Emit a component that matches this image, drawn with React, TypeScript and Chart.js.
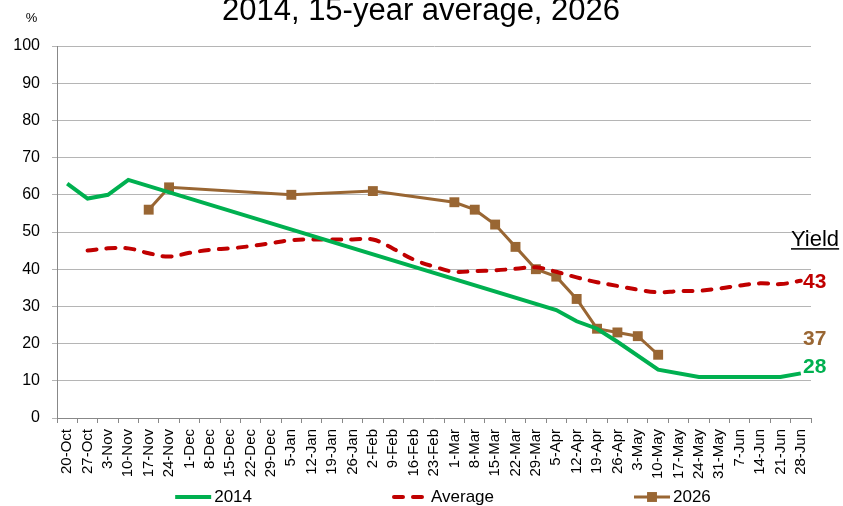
import React, { useEffect, useRef } from 'react';
import { Chart, registerables } from 'chart.js';

Chart.register(...registerables);

const categories = [
  '20-Oct', '27-Oct', '3-Nov', '10-Nov', '17-Nov', '24-Nov', '1-Dec', '8-Dec', '15-Dec', '22-Dec',
  '29-Dec', '5-Jan', '12-Jan', '19-Jan', '26-Jan', '2-Feb', '9-Feb', '16-Feb', '23-Feb', '1-Mar',
  '8-Mar', '15-Mar', '22-Mar', '29-Mar', '5-Apr', '12-Apr', '19-Apr', '26-Apr', '3-May', '10-May',
  '17-May', '24-May', '31-May', '7-Jun', '14-Jun', '21-Jun', '28-Jun',
];

const series2014: (number | null)[] = [
  63, 59, 60, 64, null, null, null, null, null, null,
  null, null, null, null, null, null, null, null, null, null,
  null, null, null, null, 29, 26, 24, 20.5, null, 13,
  null, 11, null, null, null, 11, 12,
];

const seriesAverage: (number | null)[] = [
  null, 45, 45.6, 45.6, 44.3, 43.4, 44.4, 45.2, 45.6, 46.2,
  47, 47.8, 48, 48, 48, 48, 45.5, 42.6, 40.7, 39.3,
  39.5, 39.7, 40.1, 40.5, 39.3, 37.8, 36.5, 35.5, 34.5, 33.8,
  34.1, 34.2, 34.8, 35.6, 36.2, 36, 36.9,
];

const series2026: (number | null)[] = [
  null, null, null, null, 56, 62, null, null, null, null,
  null, 60, null, null, null, 61, null, null, null, 58,
  56, 52, 46, 40, 38, 32, 24, 23, 22, 17,
  null, null, null, null, null, null, null,
];

const yTicks = [0, 10, 20, 30, 40, 50, 60, 70, 80, 90, 100];

const yieldLabels = ['43', '37', '28'];
const yieldLabelLevels = [36.4, 21.2, 13.7];
const yieldLabelColors = ['#C00000', '#996633', '#00B050'];

const titleText = '2014, 15-year average, 2026';
const FONT = '"Liberation Sans", Arial, sans-serif';

const overlayPlugin = {
  id: 'overlay',
  afterDraw(chart: any) {
    const ctx = chart.ctx as CanvasRenderingContext2D;
    const area = chart.chartArea;
    const y = chart.scales.y;
    ctx.save();
    // title
    ctx.fillStyle = '#000';
    ctx.font = `31px ${FONT}`;
    ctx.textAlign = 'center';
    ctx.textBaseline = 'alphabetic';
    ctx.fillText(titleText, 421, 20);
    // % unit
    ctx.font = `13px ${FONT}`;
    ctx.textBaseline = 'middle';
    ctx.fillText('%', 31.5, 18);
    // Yield heading
    ctx.font = `22px ${FONT}`;
    ctx.textAlign = 'left';
    ctx.textBaseline = 'alphabetic';
    const yx = area.right - 20;
    const yy = y.getPixelForValue(46.2);
    ctx.fillText('Yield', yx, yy);
    const w = ctx.measureText('Yield').width;
    ctx.fillRect(yx, yy + 2, w, 1.5);
    // yield values
    ctx.font = `bold 21px ${FONT}`;
    ctx.textBaseline = 'middle';
    yieldLabels.forEach((t, i) => {
      ctx.fillStyle = yieldLabelColors[i];
      ctx.fillText(t, area.right - 8, y.getPixelForValue(yieldLabelLevels[i]));
    });
    // legend
    const ly = 497;
    ctx.font = `17px ${FONT}`;
    ctx.textAlign = 'left';
    ctx.textBaseline = 'middle';
    const lineLen = 36;
    const gapText = 3;
    const gapItems = 140;
    const items = chart.data.datasets.map((ds: any) => ({
      ds,
      width: lineLen + gapText + ctx.measureText(ds.label).width,
    }));
    const total = items.reduce((s: number, it: any) => s + it.width, 0) + gapItems * (items.length - 1);
    let lx = 443 - total / 2;
    items.forEach((it: any) => {
      const ds = it.ds;
      ctx.save();
      ctx.strokeStyle = ds.borderColor;
      ctx.lineWidth = ds.borderWidth;
      ctx.lineCap = ds.borderCapStyle || 'butt';
      ctx.setLineDash(ds.borderDash || []);
      ctx.beginPath();
      ctx.moveTo(lx + (ds.borderCapStyle === 'round' ? 2 : 0), ly);
      ctx.lineTo(lx + lineLen, ly);
      ctx.stroke();
      ctx.setLineDash([]);
      if (ds.pointStyle === 'rect' && ds.pointRadius > 0) {
        const s = ds.pointRadius * Math.SQRT1_2;
        ctx.fillStyle = ds.pointBackgroundColor;
        ctx.fillRect(lx + lineLen / 2 - s, ly - s, 2 * s, 2 * s);
      }
      ctx.restore();
      ctx.fillStyle = '#000';
      ctx.fillText(ds.label, lx + lineLen + gapText, ly);
      lx += it.width + gapItems;
    });
    ctx.restore();
  },
};

export default function App() {
  const ref = useRef<HTMLCanvasElement | null>(null);
  useEffect(() => {
    if (!ref.current) return;
    const chart = new Chart(ref.current, {
      type: 'line',
      data: {
        labels: categories,
        datasets: [
          {
            label: '2014',
            data: series2014,
            borderColor: '#00B050',
            backgroundColor: '#00B050',
            borderWidth: 4,
            pointRadius: 0,
            spanGaps: true,
            tension: 0,
          },
          {
            label: 'Average',
            data: seriesAverage,
            borderColor: '#C00000',
            backgroundColor: '#C00000',
            borderWidth: 4,
            borderDash: [9, 10],
            borderCapStyle: 'round',
            pointRadius: 0,
            spanGaps: true,
            tension: 0.4,
          },
          {
            label: '2026',
            data: series2026,
            borderColor: '#996633',
            backgroundColor: '#996633',
            pointBackgroundColor: '#996633',
            pointBorderColor: '#996633',
            borderWidth: 3,
            pointStyle: 'rect',
            pointRadius: 7,
            pointBorderWidth: 0,
            spanGaps: true,
            tension: 0,
          },
        ],
      } as any,
      options: {
        responsive: false,
        animation: false,
        layout: { padding: { left: 0, right: 32, top: 46, bottom: 24 } },
        plugins: {
          legend: { display: false },
          title: { display: false },
          tooltip: { enabled: false },
        },
        scales: {
          x: {
            offset: true,
            grid: {
              offset: true,
              drawOnChartArea: false,
              drawTicks: true,
              tickLength: 5,
              color: '#888888',
            },
            border: { color: '#888888', width: 1 },
            ticks: {
              autoSkip: false,
              maxRotation: 90,
              minRotation: 90,
              padding: 6,
              color: '#000',
              font: { family: FONT, size: 15 },
            },
            afterFit: (s: any) => {
              s.height = 64;
            },
          },
          y: {
            min: 0,
            max: 100,
            afterBuildTicks: (s: any) => {
              s.ticks = yTicks.map((v) => ({ value: v }));
            },
            grid: {
              color: '#b5b5b5',
              tickLength: 5,
              drawTicks: true,
            },
            border: { color: '#888888', width: 1 },
            ticks: {
              padding: 12,
              color: '#000',
              font: { family: FONT, size: 16 },
            },
            afterFit: (s: any) => {
              s.width = 57;
            },
          },
        },
      } as any,
      plugins: [overlayPlugin],
    });
    return () => chart.destroy();
  }, []);
  return (
    <div style={{ position: 'absolute', left: 0, top: 0, width: 843, height: 506 }}>
      <canvas ref={ref} width={843} height={506} style={{ display: 'block' }} />
    </div>
  );
}
